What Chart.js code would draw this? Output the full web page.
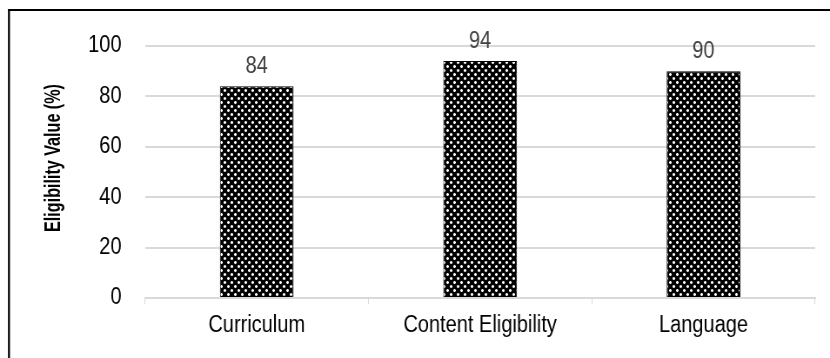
<!DOCTYPE html>
<html>
<head>
<meta charset="utf-8">
<script src="https://cdn.jsdelivr.net/npm/chart.js@4"></script>
<style>
  html, body { margin: 0; padding: 0; background: #fff; overflow: hidden; }
  #wrap { position: relative; width: 830px; height: 358px; overflow: hidden; }
  /* condensed look: the canvas is drawn wider and squeezed horizontally */
  #c { position: absolute; left: 0; top: 0; transform: scaleX(0.87); transform-origin: 0 0; }
</style>
</head>
<body>
<div id="wrap"><canvas id="c" width="954" height="358"></canvas></div>
<script>
const categories = ['Curriculum', 'Content Eligibility', 'Language'];
const eligibility = [84, 94, 90];
const yTicks = [0, 20, 40, 60, 80, 100];
const yTitle = 'Eligibility Value (%)';

const FONT = '"Liberation Sans", Arial, sans-serif';

// Black fill with small white crosses, used for the bars
function makePattern() {
  const t = document.createElement('canvas');
  t.width = 8; t.height = 8;
  const g = t.getContext('2d');
  g.fillStyle = '#000';
  g.fillRect(0, 0, 8, 8);
  const cross = (cx, cy) => {
    g.fillStyle = '#7a7a7a';
    g.fillRect(cx - 1, cy - 1, 1, 1);
    g.fillRect(cx + 1, cy - 1, 1, 1);
    g.fillRect(cx - 1, cy + 1, 1, 1);
    g.fillRect(cx + 1, cy + 1, 1, 1);
    g.fillStyle = '#fff';
    g.fillRect(cx, cy - 1, 1, 3);
    g.fillRect(cx - 1, cy, 3, 1);
  };
  cross(2, 2);
  cross(6, 6);
  return g.createPattern(t, 'repeat');
}

const frame = {
  id: 'frame',
  afterDraw(chart) {
    const ctx = chart.ctx;
    ctx.save();
    ctx.strokeStyle = '#000';
    ctx.lineWidth = 2.3;
    ctx.beginPath();
    ctx.moveTo(10.3, 9);
    ctx.lineTo(10.3, 358);
    ctx.stroke();
    ctx.lineWidth = 2;
    ctx.beginPath();
    ctx.moveTo(9.2, 10);
    ctx.lineTo(954, 10);
    ctx.stroke();
    ctx.restore();
  }
};

// Rotated y-axis title in a narrow bold face
const axisTitle = {
  id: 'axisTitle',
  afterDraw(chart) {
    const ctx = chart.ctx;
    ctx.save();
    ctx.translate(62, 158);
    ctx.rotate(-Math.PI / 2);
    ctx.scale(0.62, 1);
    ctx.font = 'bold 26px ' + FONT;
    ctx.fillStyle = '#000';
    ctx.textAlign = 'center';
    ctx.textBaseline = 'middle';
    ctx.fillText(yTitle, 0, 0);
    ctx.restore();
  }
};

const valueLabels = {
  id: 'valueLabels',
  afterDatasetsDraw(chart) {
    const ctx = chart.ctx;
    const meta = chart.getDatasetMeta(0);
    ctx.save();
    ctx.font = '23px ' + FONT;
    ctx.fillStyle = '#404040';
    ctx.textAlign = 'center';
    ctx.textBaseline = 'bottom';
    meta.data.forEach((bar, i) => {
      ctx.fillText(String(eligibility[i]), bar.x, bar.y - 8);
    });
    ctx.restore();
  }
};

new Chart(document.getElementById('c'), {
  type: 'bar',
  data: {
    labels: categories,
    datasets: [{
      data: eligibility,
      backgroundColor: makePattern(),
      borderColor: '#000',
      borderWidth: 1,
      categoryPercentage: 1,
      barPercentage: 0.33
    }]
  },
  options: {
    responsive: false,
    animation: false,
    events: [],
    layout: { padding: { top: 46, right: 17, left: 10, bottom: 0 } },
    plugins: { legend: { display: false }, tooltip: { enabled: false } },
    scales: {
      x: {
        offset: true,
        grid: {
          offset: true,
          drawOnChartArea: false,
          color: '#d9d9d9',
          tickLength: 6
        },
        border: { color: '#d9d9d9', width: 2 },
        ticks: {
          color: '#000',
          font: { family: FONT, size: 23 },
          padding: 8
        },
        afterFit(s) { s.height = 60; }
      },
      y: {
        min: 0, max: 100,
        afterBuildTicks(s) { s.ticks = yTicks.map(v => ({ value: v })); },
        grid: { color: '#d9d9d9', lineWidth: 2, drawTicks: false },
        border: { display: false },
        ticks: {
          color: '#000',
          font: { family: FONT, size: 23 },
          padding: 27
        },
        afterFit(s) { s.width = 156.7; }
      }
    }
  },
  plugins: [frame, axisTitle, valueLabels]
});
</script>
</body>
</html>
